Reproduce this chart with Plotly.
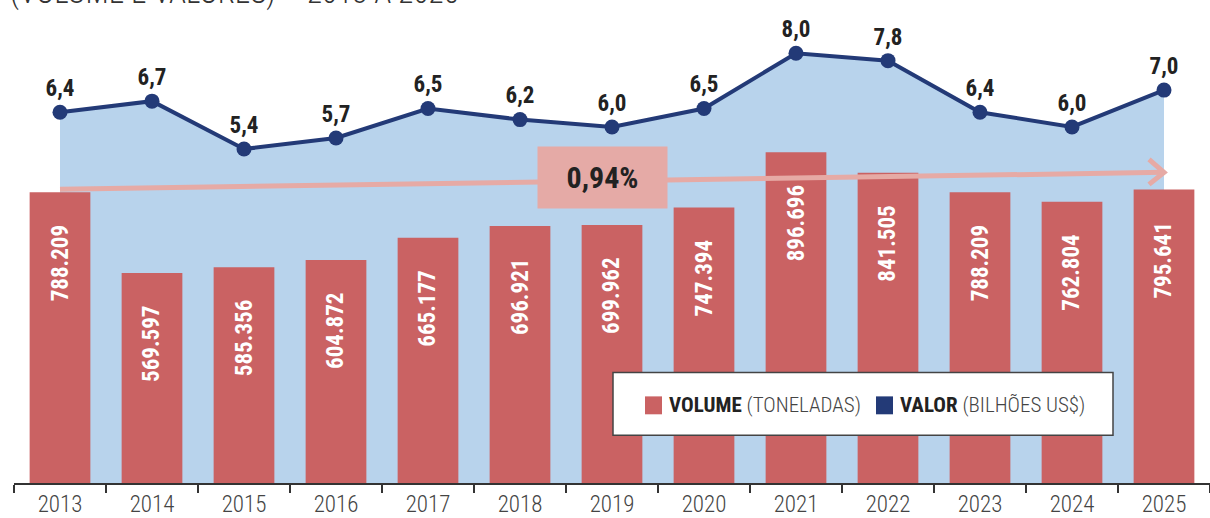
import plotly.graph_objects as go

# ---------------- data ----------------
years = ["2013", "2014", "2015", "2016", "2017", "2018", "2019",
         "2020", "2021", "2022", "2023", "2024", "2025"]
volume = [788209, 569597, 585356, 604872, 665177, 696921, 699962,
          747394, 896696, 841505, 788209, 762804, 795641]
volume_labels = ["788.209", "569.597", "585.356", "604.872", "665.177", "696.921", "699.962",
                 "747.394", "896.696", "841.505", "788.209", "762.804", "795.641"]
valor = [6.4, 6.7, 5.4, 5.7, 6.5, 6.2, 6.0, 6.5, 8.0, 7.8, 6.4, 6.0, 7.0]
valor_labels = ["6,4", "6,7", "5,4", "5,7", "6,5", "6,2", "6,0", "6,5", "8,0", "7,8", "6,4", "6,0", "7,0"]
growth_label = "0,94%"
trend_start = 796500   # volume-axis value where the trend arrow starts (2013)
trend_end = 842400     # volume-axis value where the trend arrow ends (2025)
title_text = "(VOLUME E VALORES) – 2013 A 2025"
legend_volume = "<b>VOLUME</b> <span style='font-weight:300;color:#444'>(TONELADAS)</span>"
legend_valor = "<b>VALOR</b> <span style='font-weight:300;color:#444'>(BILHÕES US$)</span>"

# ---------------- style ----------------
FONT = "Roboto Condensed, Roboto, sans-serif"
RED = "#ca6263"
NAVY = "#233a77"
FILL = "#b8d3ec"
PINK = "#e6aaa5"
DARK = "#222222"

VAL_MIN, VAL_MAX = -3.665, 8.632
VOL_MAX = 1228500
L, R, T, B = 14, 0, 30, 33
PW, PH = 1210 - L - R, 518 - T - B


def px(xp):
    return (xp - L) / PW


def py(yp):
    return (518 - B - yp) / PH


fig = go.Figure()

# baseline for area fill (bottom of the value axis)
fig.add_trace(go.Scatter(
    x=years, y=[VAL_MIN] * len(years), mode="lines",
    line=dict(width=0, color=FILL), showlegend=False, hoverinfo="skip",
    xaxis="x", yaxis="y"))

# value line with area
fig.add_trace(go.Scatter(
    x=years, y=valor, mode="lines+markers+text",
    text=valor_labels, textposition="top center", cliponaxis=False,
    textfont=dict(family=FONT, size=23, color=DARK, weight="bold"),
    line=dict(color=NAVY, width=4),
    marker=dict(color=NAVY, size=15),
    fill="tonexty", fillcolor=FILL,
    name="VALOR", showlegend=False, xaxis="x", yaxis="y"))

# volume bars (overlaid axis so they sit above the area)
fig.add_trace(go.Bar(
    x=years, y=volume, marker=dict(color=RED, line=dict(width=0)),
    name="VOLUME", showlegend=False, xaxis="x", yaxis="y2"))

annotations = []
for i, (v, lab) in enumerate(zip(volume, volume_labels)):
    annotations.append(dict(
        x=i, y=v, xref="x", yref="y2", text=lab, textangle=-90,
        showarrow=False, yanchor="top", xanchor="center", yshift=-31,
        font=dict(family=FONT, size=23, color="white", weight="bold")))

# growth box
annotations.append(dict(
    x=px(602), y=py(178), xref="paper", yref="paper",
    xanchor="center", yanchor="middle",
    text="<b>" + growth_label + "</b>", showarrow=False,
    width=129, height=61, bgcolor="#e5aaa6", borderpad=0,
    font=dict(family=FONT, size=30, color=DARK)))

# title (cropped at top)
annotations.append(dict(
    x=0, y=1, xref="paper", yref="paper", xanchor="left", yanchor="middle",
    yshift=38, xshift=-6, text=title_text, showarrow=False,
    font=dict(family=FONT, size=31, color="#333333", weight=300)))

# legend texts
annotations.append(dict(
    x=px(667), y=py(407), xref="paper", yref="paper",
    xanchor="left", yanchor="middle", text=legend_volume, showarrow=False,
    font=dict(family=FONT, size=21, color=DARK)))
annotations.append(dict(
    x=px(898), y=py(407), xref="paper", yref="paper",
    xanchor="left", yanchor="middle", text=legend_valor, showarrow=False,
    font=dict(family=FONT, size=21, color=DARK)))

n_last = len(years) - 1
shapes = [
    # trend arrow
    dict(type="line", xref="x", yref="y2", x0=0, x1=n_last, y0=trend_start, y1=trend_end,
         line=dict(color=PINK, width=5), layer="above"),
    dict(type="path", xref="x", yref="y2", xsizemode="pixel", ysizemode="pixel",
         xanchor=n_last, yanchor=trend_end, path="M-15,13 L0,0 L-15,-12",
         line=dict(color=PINK, width=5), layer="above"),
    # legend box
    dict(type="rect", xref="paper", yref="paper",
         x0=px(613), x1=px(1113), y0=py(437), y1=py(374),
         fillcolor="white", line=dict(color="#444444", width=1.5), layer="above"),
    dict(type="rect", xref="paper", yref="paper",
         x0=px(645), x1=px(662), y0=py(416), y1=py(398),
         fillcolor=RED, line=dict(width=0), layer="above"),
    dict(type="rect", xref="paper", yref="paper",
         x0=px(876), x1=px(893), y0=py(416), y1=py(398),
         fillcolor=NAVY, line=dict(width=0), layer="above"),
]

fig.update_layout(
    width=1210, height=518,
    margin=dict(l=L, r=R, t=T, b=B),
    paper_bgcolor="white", plot_bgcolor="white",
    bargap=0.34, barmode="overlay",
    font=dict(family=FONT),
    showlegend=False,
    annotations=annotations, shapes=shapes,
    xaxis=dict(type="category", categoryorder="array", categoryarray=years,
               range=[-0.5, len(years) - 0.5], autorange=False,
               tickson="boundaries", ticks="outside", ticklen=8, tickwidth=1.5,
               tickcolor="#333333", showline=True, linecolor="#333333", linewidth=1.5,
               showgrid=False, zeroline=False, tickangle=0,
               tickfont=dict(family=FONT, size=23, color="#444444", weight=300)),
    yaxis=dict(range=[VAL_MIN, VAL_MAX], autorange=False, showticklabels=False,
               showgrid=False, zeroline=False, showline=False, ticks=""),
    yaxis2=dict(range=[0, VOL_MAX], autorange=False, overlaying="y", side="right",
                showticklabels=False, showgrid=False, zeroline=False, showline=False, ticks=""),
)

fig.write_html("out.html", config={"displayModeBar": False},
               post_script="document.body.style.margin='0';document.body.style.overflow='hidden';")
